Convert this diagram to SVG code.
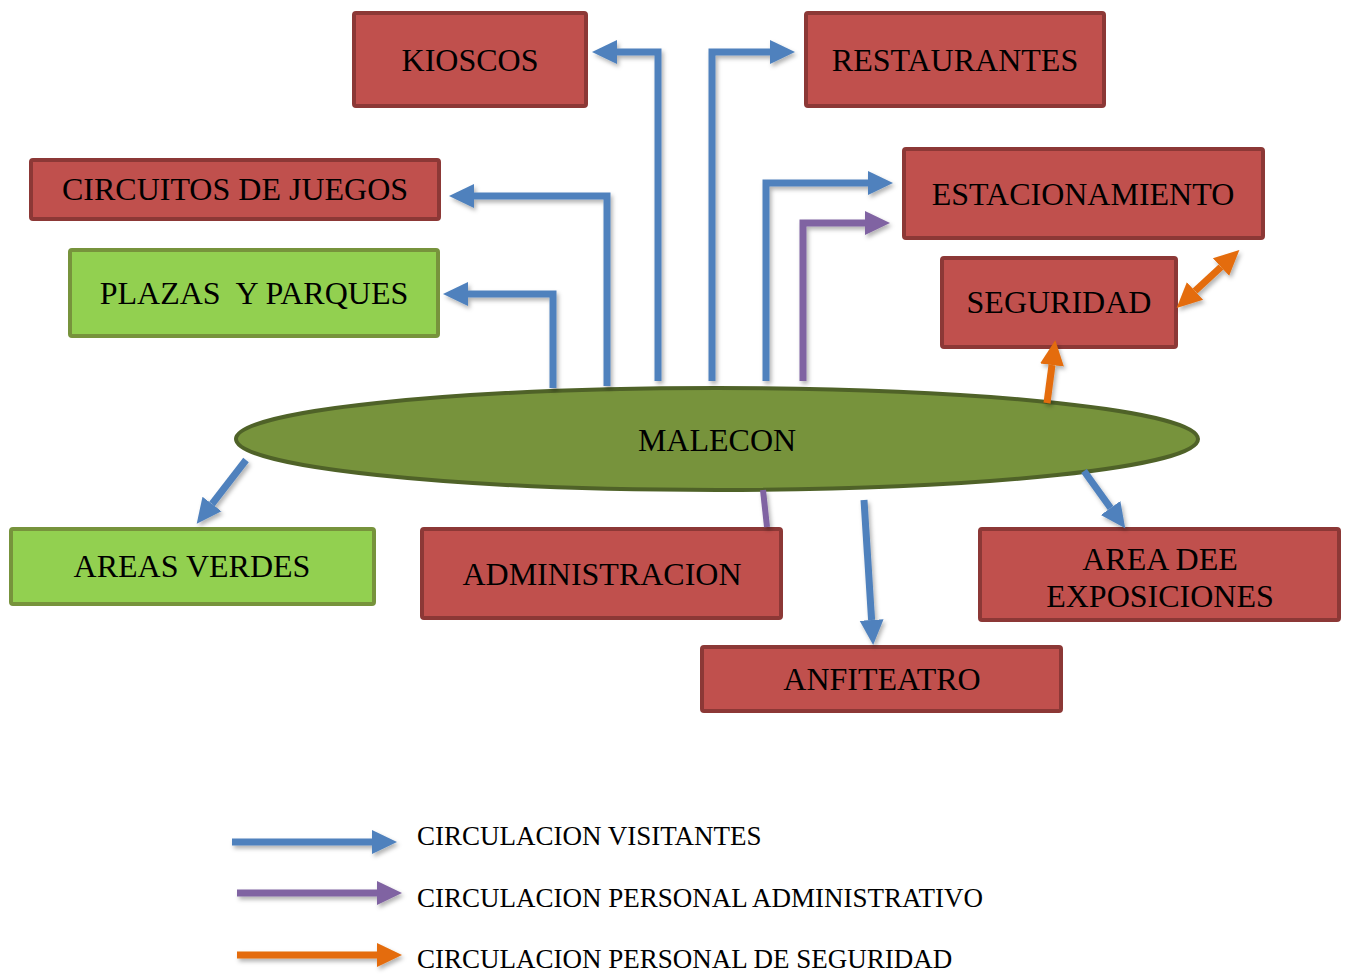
<svg xmlns="http://www.w3.org/2000/svg" width="1350" height="974" viewBox="0 0 1350 974">
<style>
.red{fill:#C0504D;stroke:#8C3836;stroke-width:4}
.grn{fill:#92D050;stroke:#77933C;stroke-width:4}
.t{font-family:"Liberation Serif","Times New Roman",serif;font-size:32px;fill:#000;text-anchor:middle}
.lt{font-family:"Liberation Serif","Times New Roman",serif;font-size:27px;fill:#000}
.c{fill:none;stroke-width:7;stroke-linejoin:miter}
.b{stroke:#4F81BD}
.p{stroke:#8064A2}
.o{stroke:#E46C0A}
</style>
<defs>
<filter id="sh" filterUnits="userSpaceOnUse" x="0" y="0" width="1350" height="974">
<feDropShadow dx="2" dy="3" stdDeviation="2" flood-color="#000" flood-opacity="0.3"/>
</filter>
<marker id="ab" markerUnits="userSpaceOnUse" markerWidth="26" markerHeight="26" viewBox="0 -13 26 26" refX="0" refY="0" orient="auto"><path d="M0,-12 L25,0 L0,12 z" fill="#4F81BD"/></marker>
<marker id="ap" markerUnits="userSpaceOnUse" markerWidth="26" markerHeight="26" viewBox="0 -13 26 26" refX="0" refY="0" orient="auto"><path d="M0,-12 L25,0 L0,12 z" fill="#8064A2"/></marker>
<marker id="ao" markerUnits="userSpaceOnUse" markerWidth="26" markerHeight="26" viewBox="0 -13 26 26" refX="0" refY="0" orient="auto-start-reverse"><path d="M0,-12 L25,0 L0,12 z" fill="#E46C0A"/></marker>
</defs>
<rect width="1350" height="974" fill="#fff"/>

<g id="kioscos"><rect class="red" x="354" y="13" width="232" height="93" rx="2"/><text class="t" x="470" y="71">KIOSCOS</text></g>
<g id="restaurantes"><rect class="red" x="806" y="13" width="298" height="93" rx="2"/><text class="t" x="955" y="71">RESTAURANTES</text></g>
<g id="circuitos"><rect class="red" x="31" y="160" width="408" height="59" rx="2"/><text class="t" x="235" y="200">CIRCUITOS DE JUEGOS</text></g>
<g id="plazas"><rect class="grn" x="70" y="250" width="368" height="86" rx="2"/><text class="t" x="254" y="304" xml:space="preserve">PLAZAS  Y PARQUES</text></g>
<g id="estacionamiento"><rect class="red" x="904" y="149" width="359" height="89" rx="2"/><text class="t" x="1083" y="205">ESTACIONAMIENTO</text></g>
<g id="seguridad"><rect class="red" x="942" y="258" width="234" height="89" rx="2"/><text class="t" x="1059" y="313">SEGURIDAD</text></g>
<g id="malecon"><ellipse cx="717" cy="439" rx="481" ry="51" fill="#77933C" stroke="#4F6228" stroke-width="4"/><text class="t" x="717" y="451">MALECON</text></g>
<g id="areas-verdes"><rect class="grn" x="11" y="529" width="363" height="75" rx="2"/><text class="t" x="192" y="577">AREAS VERDES</text></g>
<g id="administracion"><rect class="red" x="422" y="529" width="359" height="89" rx="2"/><text class="t" x="602" y="585">ADMINISTRACION</text></g>
<g id="exposiciones"><rect class="red" x="980" y="529" width="359" height="91" rx="2"/><text class="t" x="1160" y="570">AREA DEE</text><text class="t" x="1160" y="607">EXPOSICIONES</text></g>
<g id="anfiteatro"><rect class="red" x="702" y="647" width="359" height="64" rx="2"/><text class="t" x="882" y="690">ANFITEATRO</text></g>

<g id="connectors" filter="url(#sh)">
<path class="c b" d="M658,381 V52 H617" marker-end="url(#ab)"/>
<path class="c b" d="M712,381 V52 H770" marker-end="url(#ab)"/>
<path class="c b" d="M607,386 V196 H474" marker-end="url(#ab)"/>
<path class="c b" d="M553,388 V294 H468" marker-end="url(#ab)"/>
<path class="c b" d="M766,381 V183 H868" marker-end="url(#ab)"/>
<path class="c p" d="M803,381 V223 H865" marker-end="url(#ap)"/>
<path class="c o" d="M1047,403 L1052,365" marker-end="url(#ao)"/>
<path class="c o" d="M1195,291 L1221,267" marker-start="url(#ao)" marker-end="url(#ao)"/>
<path class="c b" d="M246,460 L212,504" marker-end="url(#ab)"/>
<path class="c p" d="M763,490 L767,527" style="stroke-width:6"/>
<path class="c b" d="M864,500 L871.6,620" marker-end="url(#ab)"/>
<path class="c b" d="M1084,471 L1110.6,508" marker-end="url(#ab)"/>
</g>

<g id="legend">
<g filter="url(#sh)">
<path class="c b" d="M232,842 H372" marker-end="url(#ab)"/>
<path class="c p" d="M237,893 H377" marker-end="url(#ap)"/>
<path class="c o" d="M237,955 H377" marker-end="url(#ao)"/>
</g>
<text class="lt" x="417" y="845">CIRCULACION VISITANTES</text>
<text class="lt" x="417" y="907">CIRCULACION PERSONAL ADMINISTRATIVO</text>
<text class="lt" x="417" y="968">CIRCULACION PERSONAL DE SEGURIDAD</text>
</g>
</svg>
